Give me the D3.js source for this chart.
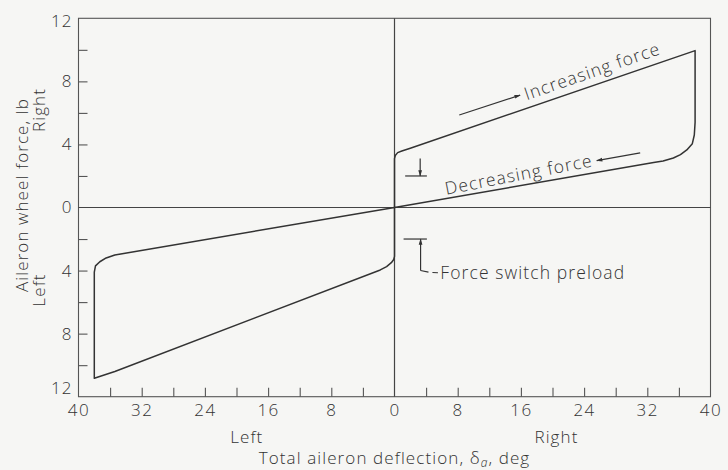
<!DOCTYPE html>
<html><head><meta charset="utf-8">
<script src="https://cdn.jsdelivr.net/npm/d3@7"></script>
<style>
html,body{margin:0;padding:0;background:#f6f6f4;}
svg{display:block;}
text{font-family:"Open Sans",sans-serif;font-weight:300;fill:#333;}
</style></head><body>
<svg id="c" width="728" height="470"></svg>
<script>
// Data (deflection in deg, force in lb; left/down negative)
const rightLoopDeg   = [0, 0, 0.1, 0.4, 0.93, 2.0, 38.05, 38.05, 37.95, 37.7, 37.0, 36.2, 35.3, 34.0, 32.8, 0];
const rightLoopForce = [0, 3.1, 3.3, 3.48, 3.58, 3.76, 9.95, 5.4, 4.6, 4.05, 3.65, 3.35, 3.14, 2.95, 2.85, 0];
const leftLoopDeg    = [0, 0, -0.1, -0.4, -1.0, -1.8, -35.4, -38.0, -38.0, -37.85, -37.3, -36.5, -35.4, 0];
const leftLoopForce  = [0, -3.1, -3.3, -3.5, -3.75, -3.96, -10.4, -10.83, -4.1, -3.7, -3.44, -3.2, -3.01, 0];
const xMinorTicks = [-36,-32,-28,-24,-20,-16,-12,-8,-4,4,8,12,16,20,24,28,32,36];
const xTickLabels = [-40,-32,-24,-16,-8,0,8,16,24,32,40];
const yMinorTicks = [-10,-8,-6,-4,-2,2,4,6,8,10];
const yTickLabels = [12,8,4,0,-4,-8,-12];
const preloadForce = 2.0;

const svg = d3.select("#c");
const x = d3.scaleLinear().domain([-40,40]).range([78.5,710.5]);
const y = d3.scaleLinear().domain([-12,12]).range([396.7,18.3]);
const ink = "#333";
const LS = "1.1px";

// frame
svg.append("rect").attr("x",x(-40)).attr("y",y(12)).attr("width",x(40)-x(-40)).attr("height",y(-12)-y(12))
  .attr("fill","none").attr("stroke","#555").attr("stroke-width",1.1);
// zero lines
svg.append("line").attr("x1",x(-40)).attr("x2",x(40)).attr("y1",y(0)).attr("y2",y(0)).attr("stroke","#444").attr("stroke-width",1.2);
svg.append("line").attr("x1",x(0)).attr("x2",x(0)).attr("y1",y(12)).attr("y2",y(-12)).attr("stroke","#444").attr("stroke-width",1.2);

// x axis ticks (inward) and labels
const gx = svg.append("g").attr("transform",`translate(0,${y(-12)})`)
  .call(d3.axisBottom(x).tickValues(xMinorTicks).tickSizeInner(-9).tickSizeOuter(0).tickFormat(""));
const gxl = svg.append("g").attr("transform",`translate(0,${y(-12)})`)
  .call(d3.axisBottom(x).tickValues(xTickLabels).tickSize(0).tickPadding(7).tickFormat(d=>Math.abs(d)));
// y axis ticks and labels
const gy = svg.append("g").attr("transform",`translate(${x(-40)},0)`)
  .call(d3.axisLeft(y).tickValues(yMinorTicks).tickSizeInner(-9).tickSizeOuter(0).tickFormat(""));
const gyl = svg.append("g").attr("transform",`translate(${x(-40)},0)`)
  .call(d3.axisLeft(y).tickValues(yTickLabels).tickSize(0).tickPadding(6).tickFormat(d=>Math.abs(d)));
[gx,gxl,gy,gyl].forEach(g=>{
  g.select(".domain").remove();
  g.selectAll("line").attr("stroke","#555").attr("stroke-width",1.1);
  g.selectAll("text").attr("font-family","Open Sans").attr("font-weight",300).attr("font-size",17).attr("fill","#333");
});
gxl.selectAll("text").attr("letter-spacing","1.5px");
gyl.selectAll("text").attr("letter-spacing","1px");
gyl.selectAll("text").filter(d=>d===12).attr("transform","translate(0,3)");
gyl.selectAll("text").filter(d=>d===-12).attr("transform","translate(0,-9)");

// loop curves
const line = d3.line().x(d=>x(d[0])).y(d=>y(d[1]));
svg.append("path").datum(d3.zip(rightLoopDeg,rightLoopForce)).attr("d",line)
  .attr("fill","none").attr("stroke",ink).attr("stroke-width",1.5).attr("stroke-linejoin","round");
svg.append("path").datum(d3.zip(leftLoopDeg,leftLoopForce)).attr("d",line)
  .attr("fill","none").attr("stroke",ink).attr("stroke-width",1.5).attr("stroke-linejoin","round");

// arrowhead marker
svg.append("defs").append("marker").attr("id","ah").attr("viewBox","0 -4 10 8").attr("refX",9).attr("refY",0)
  .attr("markerWidth",7).attr("markerHeight",5).attr("markerUnits","userSpaceOnUse").attr("orient","auto")
  .append("path").attr("d","M0,-3L10,0L0,3Z").attr("fill",ink);

function arrow(x1,y1,x2,y2){
  svg.append("line").attr("x1",x(x1)).attr("y1",y(y1)).attr("x2",x(x2)).attr("y2",y(y2))
    .attr("stroke",ink).attr("stroke-width",1.2).attr("marker-end","url(#ah)");
}
// annotations
arrow(8.2,5.87,15.9,7.13);
svg.append("text").attr("transform",`translate(${x(25.0)},${y(8.7)}) rotate(-19)`)
  .attr("text-anchor","middle").attr("dominant-baseline","central").attr("font-size",17.5).attr("letter-spacing",LS).text("Increasing force");
arrow(31.1,3.47,25.6,2.97);
svg.append("text").attr("transform",`translate(${x(15.7)},${y(2.15)}) rotate(-11)`)
  .attr("text-anchor","middle").attr("dominant-baseline","central").attr("font-size",17.5).attr("letter-spacing",LS).text("Decreasing force");

// force switch preload markers
svg.append("line").attr("x1",x(1.35)).attr("x2",x(4.1)).attr("y1",y(preloadForce)).attr("y2",y(preloadForce)).attr("stroke",ink).attr("stroke-width",1.2);
arrow(3.25,3.1,3.25,preloadForce);
svg.append("line").attr("x1",x(1.15)).attr("x2",x(4.1)).attr("y1",y(-preloadForce)).attr("y2",y(-preloadForce)).attr("stroke",ink).attr("stroke-width",1.2);
arrow(3.3,-4.0,3.3,-preloadForce);
svg.append("path").attr("d",`M${x(3.3)},${y(-4.0)}L${x(4.3)},${y(-4.1)}M${x(4.8)},${y(-4.12)}L${x(5.5)},${y(-4.14)}`)
  .attr("fill","none").attr("stroke",ink).attr("stroke-width",1.1);
svg.append("text").attr("x",x(5.8)).attr("y",y(-4.1)).attr("dominant-baseline","central").attr("font-size",17.5).attr("letter-spacing",LS).text("Force switch preload");

// axis titles (rotated; translate x is the baseline)
svg.append("text").attr("transform",`translate(28,195) rotate(-90)`).attr("text-anchor","middle")
  .attr("font-size",17).attr("letter-spacing",LS).text("Aileron wheel force, lb");
svg.append("text").attr("transform",`translate(45,110) rotate(-90)`).attr("text-anchor","middle")
  .attr("font-size",17).attr("letter-spacing",LS).text("Right");
svg.append("text").attr("transform",`translate(45,290) rotate(-90)`).attr("text-anchor","middle")
  .attr("font-size",17).attr("letter-spacing",LS).text("Left");
svg.append("text").attr("x",x(-18.7)).attr("y",443).attr("text-anchor","middle").attr("font-size",17).attr("letter-spacing",LS).text("Left");
svg.append("text").attr("x",x(20.5)).attr("y",443).attr("text-anchor","middle").attr("font-size",17).attr("letter-spacing",LS).text("Right");
const t = svg.append("text").attr("x",x(0)).attr("y",464).attr("text-anchor","middle").attr("font-size",17).attr("letter-spacing",LS);
t.append("tspan").text("Total aileron deflection, δ");
t.append("tspan").attr("font-size",12).attr("dy",3).attr("font-style","italic").text("a");
t.append("tspan").attr("dy",-3).text(", deg");
</script>
</body></html>
